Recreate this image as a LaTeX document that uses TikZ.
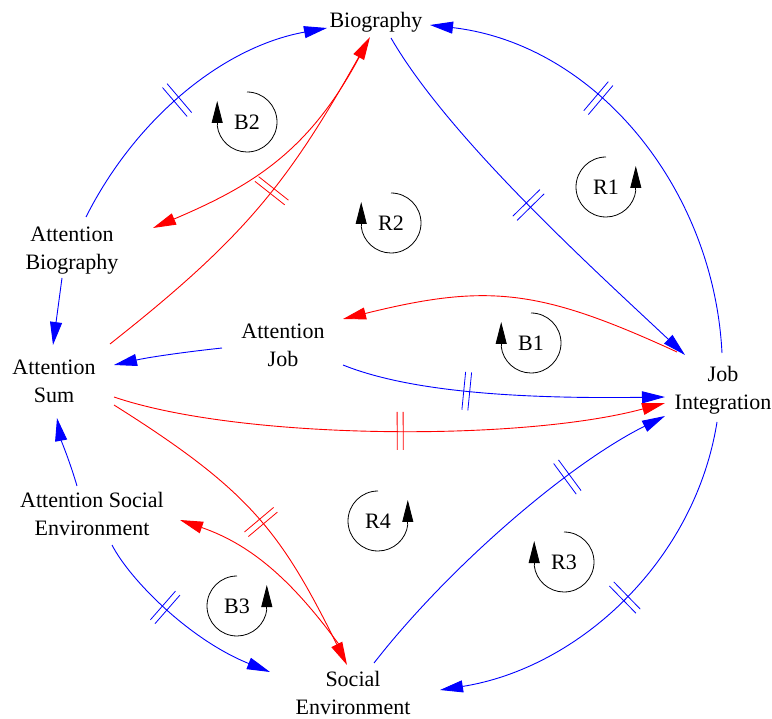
\documentclass[tikz,border=0pt]{standalone}
\usepackage{fontspec}
\setmainfont{Liberation Serif}
\usetikzlibrary{arrows.meta,decorations.markings}
\definecolor{lblue}{RGB}{0,0,255}
\definecolor{lred}{RGB}{255,0,0}
\newcommand{\LoopCW}[3]{%
  \node[looplbl] (#1) at #2 {#3};
  \draw[loopline] ([shift={(0,-30)}]#1.center) arc[start angle=90,end angle=-174,radius=30pt];
  \draw[loophead] ([shift={(-29.8,3.1)}]#1.center) -- ([shift={(-29.8,-21)}]#1.center);
}
\newcommand{\LoopCCW}[3]{%
  \node[looplbl] (#1) at #2 {#3};
  \draw[loopline] ([shift={(0,-30)}]#1.center) arc[start angle=90,end angle=354,radius=30pt];
  \draw[loophead] ([shift={(29.8,3.1)}]#1.center) -- ([shift={(29.8,-21)}]#1.center);
}
\begin{document}
\begin{tikzpicture}[x=1pt,y=-1pt,
  var/.style={font=\fontsize{22}{28}\selectfont, align=center, inner sep=0pt},
  looplbl/.style={font=\fontsize{22}{28}\selectfont, inner sep=0pt},
  conn/.style={line width=0.9pt, -{Triangle[length=23pt,width=12pt]}},
  bluelink/.style={conn, color=lblue},
  redlink/.style={conn, color=lred},
  bdelay/.style={postaction={decorate,decoration={markings,mark=at position #1 with {\draw[-,draw=lblue,line width=0.8pt] (-3pt,-19pt)--(-3pt,19pt) (3pt,-19pt)--(3pt,19pt);}}}},
  rdelay/.style={postaction={decorate,decoration={markings,mark=at position #1 with {\draw[-,draw=lred,line width=0.8pt] (-3pt,-19pt)--(-3pt,19pt) (3pt,-19pt)--(3pt,19pt);}}}},
  loopline/.style={draw=black,line width=0.8pt},
  loophead/.style={draw=black,line width=0.8pt,-{Triangle[length=22pt,width=11pt]}}
]
\useasboundingbox (0,0) rectangle (772,719);

% variables
\node[var] (bio) at (376,22) {\strut Biography};
\node[var] (ab)  at (72,250) {\strut Attention\\\strut Biography};
\node[var] (as)  at (54,383) {\strut Attention\\\strut Sum};
\node[var] (aj)  at (283,347) {\strut Attention\\\strut Job};
\node[var] (ji)  at (723,390) {\strut Job\\\strut Integration};
\node[var] (ase) at (92,516) {\strut Attention Social\\\strut Environment};
\node[var] (se)  at (353,695) {\strut Social\\\strut Environment};

% loop markers
\LoopCW{lB2}{(247,122)}{B2}
\LoopCCW{lR1}{(606,187)}{R1}
\LoopCW{lR2}{(391,223)}{R2}
\LoopCW{lB1}{(531,343)}{B1}
\LoopCCW{lR4}{(378,521)}{R4}
\LoopCCW{lB3}{(237,606)}{B3}
\LoopCW{lR3}{(564,562)}{R3}

% blue links
\draw[bluelink, bdelay=0.47] ([shift={(14,-33)}]ab.center) .. controls (134.5,120.6) and (220.8,47.4) .. ([shift={(-49,6)}]bio.center);
\draw[bluelink, bdelay=0.5] ([shift={(15,16)}]bio.center) .. controls (450,140) and (600,275) .. ([shift={(-38,-35)}]ji.center);
\draw[bluelink, bdelay=0.61] ([shift={(-1,-37)}]ji.center) .. controls (713.6,187.2) and (594.9,44.1) .. ([shift={(54,3)}]bio.center);
\draw[bluelink, bdelay=0.49] ([shift={(-6,32)}]ji.center) .. controls (695,561) and (579,668) .. ([shift={(87,-5)}]se.center);
\draw[bluelink, bdelay=0.7] ([shift={(21,-32)}]se.center) .. controls (448,568) and (567,465) .. ([shift={(-58,26)}]ji.center);
\draw[bluelink, bdelay=0.39] ([shift={(60,18)}]aj.center) .. controls (410,392) and (520,399) .. ([shift={(-58,7)}]ji.center);
\draw[bluelink] ([shift={(-61,1)}]aj.center) .. controls (185,352) and (150,357) .. ([shift={(60,-18)}]as.center);
\draw[bluelink] ([shift={(-10,28)}]ab.center) -- ([shift={(-1,-38)}]as.center);
\draw[bluelink] ([shift={(-15,-30)}]ase.center) .. controls (70,462) and (61,440) .. ([shift={(3,35)}]as.center);
\draw[bluelink, bdelay=0.4] ([shift={(20,29)}]ase.center) .. controls (130,580) and (190,640) .. ([shift={(-83,-23)}]se.center);

% red links
\draw[redlink, rdelay=0.55] ([shift={(56,-39)}]as.center) .. controls (243,239) and (287,185) .. ([shift={(-6,15)}]bio.center);
\draw[redlink] ([shift={(-12,26)}]bio.center) .. controls (312,150) and (254,185) .. ([shift={(81,-22)}]ab.center);
\draw[redlink] ([shift={(-46,-38)}]ji.center) .. controls (540,289) and (488,283) .. ([shift={(60,-28)}]aj.center);
\draw[redlink, rdelay=0.52] ([shift={(60,14)}]as.center) .. controls (240,440) and (520,442) .. ([shift={(-58,13)}]ji.center);
\draw[redlink, rdelay=0.53] ([shift={(60,22)}]as.center) .. controls (249,490) and (280,530) .. ([shift={(-6,-30)}]se.center);
\draw[redlink] ([shift={(-10,-45)}]se.center) .. controls (296,585) and (255,546) .. ([shift={(88,4)}]ase.center);
\end{tikzpicture}
\end{document}
